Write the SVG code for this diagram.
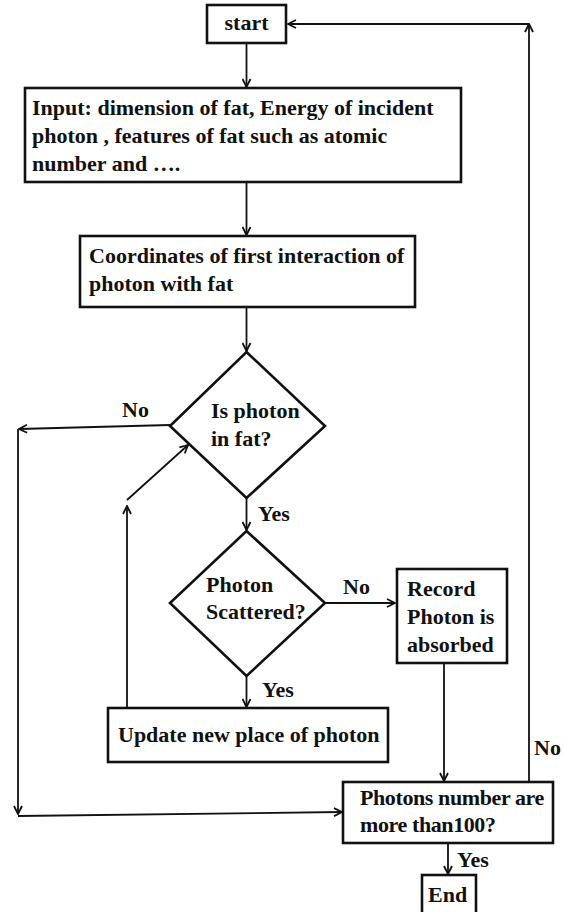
<svg xmlns="http://www.w3.org/2000/svg" width="563" height="912" viewBox="0 0 563 912">
<style>
.box{fill:#fff;stroke:#111;stroke-width:2.6}
.t{font-family:"Liberation Serif","Times New Roman",serif;font-weight:bold;font-size:22px;fill:#111}
.c{fill:none;stroke:#111;stroke-width:1.8}
</style>
<defs>
<marker id="ah" markerUnits="userSpaceOnUse" viewBox="0 0 10 10" refX="9" refY="5" markerWidth="10" markerHeight="10" orient="auto">
<path d="M1,1 L9,5 L1,9" fill="none" stroke="#111" stroke-width="1.8"/>
</marker>
</defs>
<rect width="563" height="912" fill="#fff"/>
<g id="connectors">
<line class="c" x1="246.5" y1="43" x2="246.5" y2="87" marker-end="url(#ah)"/>
<line class="c" x1="246.5" y1="182" x2="246.5" y2="235" marker-end="url(#ah)"/>
<line class="c" x1="246.5" y1="307" x2="246.5" y2="351" marker-end="url(#ah)"/>
<line class="c" x1="170" y1="425" x2="19" y2="429" marker-end="url(#ah)"/>
<line class="c" x1="18" y1="429" x2="18" y2="814" marker-end="url(#ah)"/>
<line class="c" x1="18" y1="816" x2="342" y2="812" marker-end="url(#ah)"/>
<line class="c" x1="246.5" y1="498" x2="246.5" y2="530" marker-end="url(#ah)"/>
<line class="c" x1="325" y1="603" x2="395" y2="603" marker-end="url(#ah)"/>
<line class="c" x1="246.5" y1="676" x2="246.5" y2="707" marker-end="url(#ah)"/>
<line class="c" x1="127" y1="708" x2="127" y2="506" marker-end="url(#ah)"/>
<line class="c" x1="127" y1="500" x2="188" y2="445" marker-end="url(#ah)"/>
<line class="c" x1="444" y1="663" x2="444" y2="781" marker-end="url(#ah)"/>
<line class="c" x1="529" y1="782" x2="529" y2="24" marker-end="url(#ah)"/>
<line class="c" x1="529" y1="24" x2="288" y2="24" marker-end="url(#ah)"/>
<line class="c" x1="448" y1="843" x2="448" y2="874" marker-end="url(#ah)"/>
</g>
<g id="labels">
<text class="t" x="122" y="417">No</text>
<text class="t" x="258" y="521">Yes</text>
<text class="t" x="343" y="594">No</text>
<text class="t" x="262" y="697">Yes</text>
<text class="t" x="534" y="755">No</text>
<text class="t" x="457" y="867">Yes</text>
</g>
<g id="start">
<rect class="box" x="207" y="5" width="79" height="38"/>
<text class="t" x="246.5" y="30" text-anchor="middle">start</text>
</g>
<g id="input">
<rect class="box" x="25" y="88" width="436" height="94"/>
<text class="t" x="32" y="115">Input: dimension of fat, Energy of incident</text>
<text class="t" x="32" y="143">photon , features of  fat such as atomic</text>
<text class="t" x="32" y="171">number and ….</text>
</g>
<g id="coordinates">
<rect class="box" x="80" y="236" width="335" height="71"/>
<text class="t" x="89" y="263">Coordinates of first interaction of</text>
<text class="t" x="89" y="291">photon with fat</text>
</g>
<g id="in-fat">
<polygon class="box" points="246.5,352 325,426 246.5,498 170,426"/>
<text class="t" x="211" y="418">Is photon</text>
<text class="t" x="211" y="446">in fat?</text>
</g>
<g id="scattered">
<polygon class="box" points="246.5,531 325,603 246.5,676 170,603"/>
<text class="t" x="206" y="592">Photon</text>
<text class="t" x="206" y="619">Scattered?</text>
</g>
<g id="record">
<rect class="box" x="397" y="569" width="110" height="94"/>
<text class="t" x="407" y="596">Record</text>
<text class="t" x="407" y="624">Photon is</text>
<text class="t" x="407" y="652">absorbed</text>
</g>
<g id="update">
<rect class="box" x="108" y="708" width="280" height="54"/>
<text class="t" x="118" y="742">Update new place of photon</text>
</g>
<g id="photons">
<rect class="box" x="343" y="782" width="210" height="61"/>
<text class="t" x="360" y="805" letter-spacing="-0.4">Photons number are</text>
<text class="t" x="360" y="832" letter-spacing="-0.4">more than100?</text>
</g>
<g id="end">
<rect class="box" x="422" y="875" width="54" height="40"/>
<text class="t" x="428" y="902">End</text>
</g>
</svg>
